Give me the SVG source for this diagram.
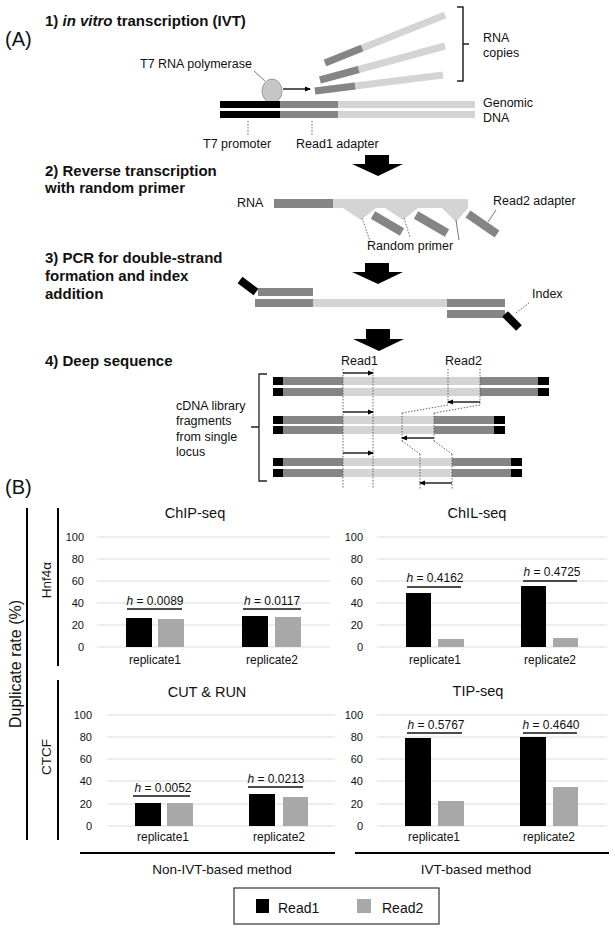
<svg xmlns="http://www.w3.org/2000/svg" width="615" height="933" viewBox="0 0 615 933">
<style>
text{font-family:"Liberation Sans",Arial,sans-serif;fill:#111}
.h{font-weight:bold;font-size:15px}
.s{font-size:12.5px}
.blk{fill:#000}
.dk{fill:#858585}
.lt{fill:#d4d4d4}
.grid{stroke:#dcdcdc;stroke-width:1}
.ax{font-size:11px;text-anchor:end}
.ttl{font-size:14.5px;text-anchor:middle}
.rep{font-size:12px;text-anchor:middle}
.hv{font-size:12px;text-anchor:middle}
.ul{stroke:#111;stroke-width:1.5}
.b1{fill:#000}
.b2{fill:#a8a8a8}
.dot{stroke:#555;stroke-width:0.9;stroke-dasharray:1.5 1.5;fill:none}
.rd{stroke:#000;stroke-width:1.3;fill:none;marker-end:url(#ah)}
.lead{stroke:#777;stroke-width:1;fill:none}
.big{fill:#000}
.frame{stroke:#000;stroke-width:2;fill:none}
</style>
<defs>
<marker id="ah" markerWidth="6" markerHeight="6" refX="5" refY="3" orient="auto" markerUnits="userSpaceOnUse"><path d="M0,0.5 L6,3 L0,5.5z" fill="#000"/></marker>
</defs>

<g id="panelA-label"><text x="5" y="46" font-size="20">(A)</text></g>

<g id="step1">
<text x="45" y="26" class="h">1) <tspan font-style="italic">in vitro</tspan> transcription (IVT)</text>
</g>

<g id="polymerase">
<text x="140" y="68" class="s">T7 RNA polymerase</text>
<ellipse cx="272" cy="91" rx="10" ry="12" fill="#c6c6c6" stroke="#8a8a8a" stroke-width="0.8"/>
</g>

<g id="rna-copies">
<line x1="315" y1="91" x2="443" y2="75" stroke="#d4d4d4" stroke-width="7"/>
<line x1="315" y1="91" x2="355" y2="86" stroke="#858585" stroke-width="7"/>
<line x1="320" y1="80" x2="445" y2="46" stroke="#d4d4d4" stroke-width="7"/>
<line x1="320" y1="80" x2="358.6" y2="69.5" stroke="#858585" stroke-width="7"/>
<line x1="325" y1="63" x2="445" y2="15" stroke="#d4d4d4" stroke-width="7"/>
<line x1="325" y1="63" x2="362" y2="48" stroke="#858585" stroke-width="7"/>
<path d="M457,7 H463 V81 H457 M463,44 H469" stroke="#222" stroke-width="1.5" fill="none"/>
<text x="483" y="42" class="s">RNA</text>
<text x="483" y="57" class="s">copies</text>
</g>

<g id="genomic-dna">
<rect x="220" y="101" width="60" height="7" class="blk"/>
<rect x="280" y="101" width="58" height="7" class="dk"/>
<rect x="338" y="101" width="137" height="7" class="lt"/>
<rect x="220" y="111" width="60" height="7" class="blk"/>
<rect x="280" y="111" width="58" height="7" class="dk"/>
<rect x="338" y="111" width="137" height="7" class="lt"/>
<text x="483" y="107" class="s">Genomic</text>
<text x="483" y="122" class="s">DNA</text>
<text x="203" y="148" class="s">T7 promoter</text>
<text x="296" y="148" class="s">Read1 adapter</text>
</g>

<g id="step2">
<text x="45" y="176" class="h">2) Reverse transcription</text>
<text x="45" y="193" class="h">with random primer</text>
</g>

<g id="rt-strand">
<text x="237" y="207" class="s">RNA</text>
<rect x="274" y="199" width="59" height="9" class="dk"/>
<rect x="333" y="199" width="135" height="9" class="lt"/>
<polygon points="343,208 376,208 361,220" class="lt"/>
<polygon points="385,208 418,208 403,220" class="lt"/>
<polygon points="442,208 468,208 456,222" class="lt"/>
<line x1="373" y1="215" x2="402" y2="232" stroke="#858585" stroke-width="8.5"/>
<line x1="416" y1="215" x2="447" y2="233" stroke="#858585" stroke-width="8.5"/>
<line x1="468" y1="214" x2="497" y2="234" stroke="#858585" stroke-width="8.5"/>
<text x="367" y="250" class="s">Random primer</text>
<text x="493" y="205" class="s">Read2 adapter</text>
</g>

<g id="step3">
<text x="45" y="263" class="h">3) PCR for double-strand</text>
<text x="45" y="281" class="h">formation and index</text>
<text x="45" y="299" class="h">addition</text>
</g>

<g id="pcr-strands">
<line x1="240" y1="280" x2="256" y2="292" stroke="#000" stroke-width="8"/>
<rect x="258" y="288" width="55" height="8" class="dk"/>
<rect x="255" y="299" width="58" height="8" class="dk"/>
<rect x="313" y="299" width="134" height="8" class="lt"/>
<rect x="447" y="299" width="58" height="8" class="dk"/>
<rect x="447" y="310" width="58" height="8" class="dk"/>
<line x1="505" y1="314" x2="519" y2="328" stroke="#000" stroke-width="8"/>
<text x="532" y="298" class="s">Index</text>
</g>

<g id="step4">
<text x="45" y="366" class="h">4) Deep sequence</text>
</g>

<g id="fragments">
<text x="341" y="365" class="s">Read1</text>
<text x="445" y="365" class="s">Read2</text>
<rect x="273" y="377" width="10" height="8" class="blk"/><rect x="283" y="377" width="60" height="8" class="dk"/><rect x="343" y="377" width="137" height="8" class="lt"/><rect x="480" y="377" width="58" height="8" class="dk"/><rect x="538" y="377" width="11" height="8" class="blk"/>
<rect x="273" y="388" width="10" height="8" class="blk"/><rect x="283" y="388" width="60" height="8" class="dk"/><rect x="343" y="388" width="137" height="8" class="lt"/><rect x="480" y="388" width="58" height="8" class="dk"/><rect x="538" y="388" width="11" height="8" class="blk"/>
<rect x="273" y="416" width="10" height="8" class="blk"/><rect x="283" y="416" width="60" height="8" class="dk"/><rect x="343" y="416" width="91" height="8" class="lt"/><rect x="434" y="416" width="60" height="8" class="dk"/><rect x="494" y="416" width="11" height="8" class="blk"/>
<rect x="273" y="426" width="10" height="8" class="blk"/><rect x="283" y="426" width="60" height="8" class="dk"/><rect x="343" y="426" width="91" height="8" class="lt"/><rect x="434" y="426" width="60" height="8" class="dk"/><rect x="494" y="426" width="11" height="8" class="blk"/>
<rect x="273" y="458" width="10" height="8" class="blk"/><rect x="283" y="458" width="60" height="8" class="dk"/><rect x="343" y="458" width="109" height="8" class="lt"/><rect x="452" y="458" width="59" height="8" class="dk"/><rect x="511" y="458" width="11" height="8" class="blk"/>
<rect x="273" y="469" width="10" height="8" class="blk"/><rect x="283" y="469" width="60" height="8" class="dk"/><rect x="343" y="469" width="109" height="8" class="lt"/><rect x="452" y="469" width="59" height="8" class="dk"/><rect x="511" y="469" width="11" height="8" class="blk"/>
<path d="M267,374 H259 V481 H267 M259,427 H251" stroke="#222" stroke-width="1.3" fill="none"/>
<text x="176" y="410" class="s">cDNA library</text>
<text x="176" y="425" class="s">fragments</text>
<text x="176" y="441" class="s">from single</text>
<text x="176" y="456" class="s">locus</text>
</g>

<g id="connectors">
<line x1="254" y1="71" x2="265" y2="81" class="lead"/>
<line x1="283" y1="89" x2="310" y2="89" class="rd"/>
<line x1="248" y1="121" x2="248" y2="135" class="dot"/>
<line x1="312" y1="121" x2="312" y2="135" class="dot"/>
<path d="M365,155 H389 V164 H403 L378,176 L352,164 H365 Z" class="big"/>
<path d="M365,263 H389 V272 H403 L378,284 L352,272 H365 Z" class="big"/>
<path d="M366,329 H390 V339 H404 L379,351 L353,339 H366 Z" class="big"/>
<line x1="362" y1="218" x2="370" y2="241" class="dot"/>
<line x1="404" y1="218" x2="410" y2="237" class="dot"/>
<line x1="456" y1="220" x2="459" y2="240" class="lead"/>
<line x1="488" y1="222" x2="496" y2="210" class="lead"/>
<line x1="516" y1="313" x2="530" y2="302" class="dot"/>
<line x1="343" y1="369" x2="343" y2="488" class="dot"/>
<line x1="373" y1="369" x2="373" y2="488" class="dot"/>
<line x1="448" y1="369" x2="448" y2="405" class="dot"/>
<line x1="480" y1="369" x2="480" y2="405" class="dot"/>
<line x1="448" y1="405" x2="402" y2="413" class="dot"/>
<line x1="480" y1="405" x2="434" y2="413" class="dot"/>
<line x1="402" y1="413" x2="402" y2="441" class="dot"/>
<line x1="434" y1="413" x2="434" y2="441" class="dot"/>
<line x1="402" y1="441" x2="420" y2="454" class="dot"/>
<line x1="434" y1="441" x2="452" y2="454" class="dot"/>
<line x1="420" y1="454" x2="420" y2="489" class="dot"/>
<line x1="452" y1="454" x2="452" y2="489" class="dot"/>
<line x1="343" y1="373" x2="373" y2="373" class="rd"/>
<line x1="343" y1="412" x2="373" y2="412" class="rd"/>
<line x1="343" y1="453" x2="373" y2="453" class="rd"/>
<line x1="480" y1="402" x2="448" y2="402" class="rd"/>
<line x1="434" y1="438" x2="402" y2="438" class="rd"/>
<line x1="452" y1="483" x2="420" y2="483" class="rd"/>
</g>

<g id="panelB-label"><text x="5" y="494" font-size="20">(B)</text></g>

<g id="axes-frame">
<line x1="27" y1="508" x2="27" y2="840" class="frame"/>
<line x1="58" y1="508" x2="58" y2="666" class="frame"/>
<line x1="58" y1="680" x2="58" y2="840" class="frame"/>
<line x1="80" y1="853" x2="335" y2="853" class="frame"/>
<line x1="355" y1="853" x2="609" y2="853" class="frame"/>
<text transform="translate(21,664) rotate(-90)" font-size="16" text-anchor="middle">Duplicate rate (%)</text>
<text transform="translate(51,580) rotate(-90)" font-size="13.5" text-anchor="middle">Hnf4α</text>
<text transform="translate(51,757) rotate(-90)" font-size="13.5" text-anchor="middle">CTCF</text>
<text x="222" y="874" font-size="13.5" text-anchor="middle">Non-IVT-based method</text>
<text x="476" y="874" font-size="13.5" text-anchor="middle">IVT-based method</text>
</g>

<g id="chart-chip">
<text x="195" y="518" class="ttl">ChIP-seq</text>
<g class="grid"><line x1="97" y1="537" x2="330" y2="537"/><line x1="97" y1="559" x2="330" y2="559"/><line x1="97" y1="581" x2="330" y2="581"/><line x1="97" y1="603" x2="330" y2="603"/><line x1="97" y1="625" x2="330" y2="625"/><line x1="97" y1="647" x2="330" y2="647"/></g>
<text x="84" y="541" class="ax">100</text><text x="84" y="563" class="ax">80</text><text x="84" y="585" class="ax">60</text><text x="84" y="607" class="ax">40</text><text x="84" y="629" class="ax">20</text><text x="84" y="651" class="ax">0</text>
<rect x="126" y="618" width="26" height="29" class="b1"/><rect x="158" y="619" width="26" height="28" class="b2"/>
<rect x="242" y="616" width="26" height="31" class="b1"/><rect x="275" y="617" width="26" height="30" class="b2"/>
<text x="155" y="605" class="hv"><tspan font-style="italic">h</tspan> = 0.0089</text><line x1="127" y1="609" x2="182" y2="609" class="ul"/>
<text x="272" y="605" class="hv"><tspan font-style="italic">h</tspan> = 0.0117</text><line x1="243" y1="609" x2="301" y2="609" class="ul"/>
<text x="155" y="664" class="rep">replicate1</text><text x="272" y="664" class="rep">replicate2</text>
</g>

<g id="chart-chil">
<text x="477" y="518" class="ttl">ChIL-seq</text>
<g class="grid"><line x1="377" y1="537" x2="607" y2="537"/><line x1="377" y1="559" x2="607" y2="559"/><line x1="377" y1="581" x2="607" y2="581"/><line x1="377" y1="603" x2="607" y2="603"/><line x1="377" y1="625" x2="607" y2="625"/><line x1="377" y1="647" x2="607" y2="647"/></g>
<text x="363" y="541" class="ax">100</text><text x="363" y="563" class="ax">80</text><text x="363" y="585" class="ax">60</text><text x="363" y="607" class="ax">40</text><text x="363" y="629" class="ax">20</text><text x="363" y="651" class="ax">0</text>
<rect x="406" y="593" width="25" height="54" class="b1"/><rect x="438" y="639" width="26" height="8" class="b2"/>
<rect x="521" y="586" width="25" height="61" class="b1"/><rect x="553" y="638" width="25" height="9" class="b2"/>
<text x="435" y="582" class="hv"><tspan font-style="italic">h</tspan> = 0.4162</text><line x1="407" y1="587" x2="461" y2="587" class="ul"/>
<text x="552" y="576" class="hv"><tspan font-style="italic">h</tspan> = 0.4725</text><line x1="523" y1="581" x2="577" y2="581" class="ul"/>
<text x="435" y="664" class="rep">replicate1</text><text x="550" y="664" class="rep">replicate2</text>
</g>

<g id="chart-cutrun">
<text x="207" y="697" class="ttl">CUT &amp; RUN</text>
<g class="grid"><line x1="107" y1="715" x2="335" y2="715"/><line x1="107" y1="737" x2="335" y2="737"/><line x1="107" y1="759" x2="335" y2="759"/><line x1="107" y1="781" x2="335" y2="781"/><line x1="107" y1="804" x2="335" y2="804"/><line x1="107" y1="826" x2="335" y2="826"/></g>
<text x="92" y="719" class="ax">100</text><text x="92" y="741" class="ax">80</text><text x="92" y="763" class="ax">60</text><text x="92" y="785" class="ax">40</text><text x="92" y="808" class="ax">20</text><text x="92" y="830" class="ax">0</text>
<rect x="135" y="803" width="26" height="23" class="b1"/><rect x="167" y="803" width="26" height="23" class="b2"/>
<rect x="249" y="794" width="26" height="32" class="b1"/><rect x="283" y="797" width="25" height="29" class="b2"/>
<text x="163" y="792" class="hv"><tspan font-style="italic">h</tspan> = 0.0052</text><line x1="133" y1="796" x2="190" y2="796" class="ul"/>
<text x="276" y="783" class="hv"><tspan font-style="italic">h</tspan> = 0.0213</text><line x1="248" y1="787" x2="303" y2="787" class="ul"/>
<text x="163" y="841" class="rep">replicate1</text><text x="279" y="841" class="rep">replicate2</text>
</g>

<g id="chart-tip">
<text x="478" y="696" class="ttl">TIP-seq</text>
<g class="grid"><line x1="377" y1="715" x2="607" y2="715"/><line x1="377" y1="737" x2="607" y2="737"/><line x1="377" y1="759" x2="607" y2="759"/><line x1="377" y1="781" x2="607" y2="781"/><line x1="377" y1="804" x2="607" y2="804"/><line x1="377" y1="826" x2="607" y2="826"/></g>
<text x="363" y="719" class="ax">100</text><text x="363" y="741" class="ax">80</text><text x="363" y="763" class="ax">60</text><text x="363" y="785" class="ax">40</text><text x="363" y="808" class="ax">20</text><text x="363" y="830" class="ax">0</text>
<rect x="405" y="738" width="26" height="88" class="b1"/><rect x="438" y="801" width="26" height="25" class="b2"/>
<rect x="520" y="737" width="26" height="89" class="b1"/><rect x="553" y="787" width="25" height="39" class="b2"/>
<text x="436" y="729" class="hv"><tspan font-style="italic">h</tspan> = 0.5767</text><line x1="407" y1="733" x2="462" y2="733" class="ul"/>
<text x="551" y="729" class="hv"><tspan font-style="italic">h</tspan> = 0.4640</text><line x1="523" y1="733" x2="577" y2="733" class="ul"/>
<text x="434" y="841" class="rep">replicate1</text><text x="549" y="841" class="rep">replicate2</text>
</g>

<g id="legend">
<rect x="234" y="888" width="205" height="36" fill="#fff" stroke="#333" stroke-width="1.2"/>
<rect x="256" y="899" width="13" height="14" class="b1"/>
<text x="278" y="913" font-size="14">Read1</text>
<rect x="357" y="899" width="14" height="14" class="b2"/>
<text x="382" y="913" font-size="14">Read2</text>
</g>
</svg>
